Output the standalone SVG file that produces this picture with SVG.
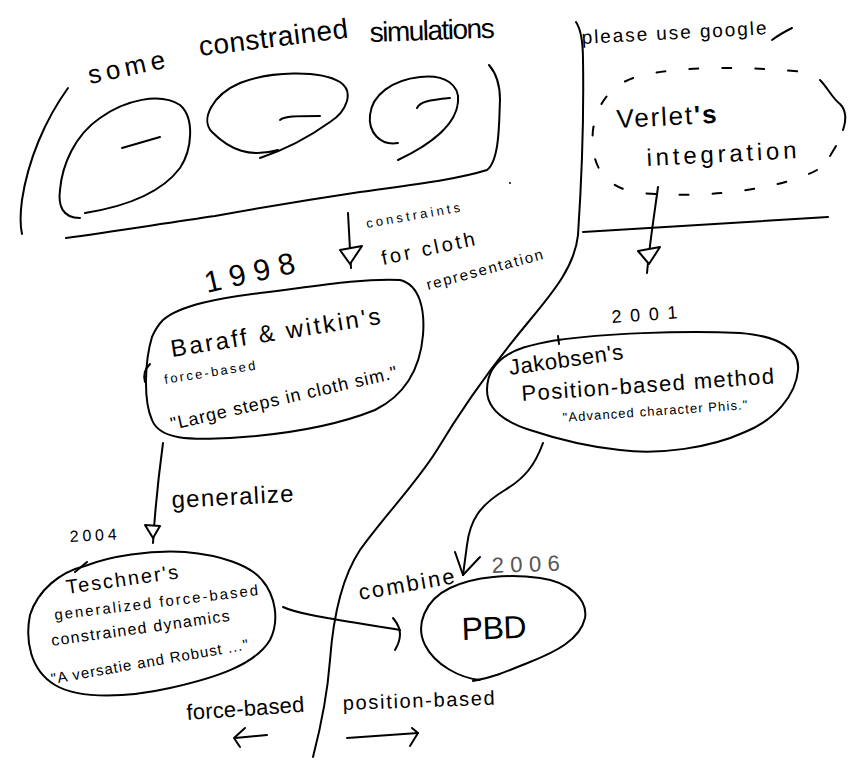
<svg xmlns="http://www.w3.org/2000/svg" width="856" height="777" viewBox="0 0 856 777">
<style>
  .s { fill: none; stroke: #000; stroke-width: 2; stroke-linecap: round; stroke-linejoin: round; }
  .tri { fill: #fff; stroke: #000; stroke-width: 2; stroke-linejoin: round; }
  .dash { fill: none; stroke: #000; stroke-width: 2; stroke-linecap: round; stroke-dasharray: 9 24; }
  text { font-family: "Liberation Sans", "DejaVu Sans", sans-serif; fill: #000; }
</style>
<rect width="856" height="777" fill="#fff"/>

<g id="title">
  <text x="90" y="84" font-size="26" textLength="78" lengthAdjust="spacing" transform="rotate(-12 90 84)">some</text>
  <text x="200" y="56" font-size="28" textLength="150" lengthAdjust="spacing" transform="rotate(-7 200 56)">constrained</text>
  <text x="370" y="42" font-size="28" textLength="125" lengthAdjust="spacing" transform="rotate(-2 370 42)">simulations</text>
</g>

<g id="constrained-simulations">
  <path class="s" d="M68,88 C45,120 28,160 22,200 C20,215 20,225 22,234"/>
  <path class="s" d="M66,238 C110,232 160,224 215,216 C270,206 320,198 360,192 C410,185 455,180 487,170 C500,160 499,120 500,100 C500,85 496,73 489,65"/>
  <path class="s" d="M80,218 C62,218 58,205 60,190 C62,165 75,135 100,118 C125,100 160,92 180,105 C195,118 192,150 180,168 C165,188 135,205 85,213"/>
  <path class="s" d="M122,148 L160,137"/>
  <path class="s" d="M278,150 C250,158 230,150 212,132 C200,120 212,95 240,83 C270,71 320,70 340,82 C355,92 346,112 330,122 C312,135 290,148 260,158"/>
  <path class="s" d="M280,120 C285,116 295,116 320,116"/>
  <path class="s" d="M398,143 C380,146 368,132 370,115 C372,95 392,80 420,77 C445,74 460,85 458,102 C456,125 430,145 398,160"/>
  <path class="s" d="M417,108 C420,102 428,100 450,98"/>
  <circle cx="510" cy="183" r="1" fill="#000"/>
</g>

<g id="google-panel">
  <text x="582" y="44" font-size="19" textLength="185" lengthAdjust="spacing" transform="rotate(-3 582 44)">please use google</text>
  <path class="s" d="M772,40 Q780,34 792,28"/>
  <path class="s" d="M583,232 L828,217"/>
</g>

<g id="verlet">
  <path class="dash" d="M817,170 C790,185 720,200 640,193 C600,188 590,160 593,130 C597,100 615,82 640,76 C680,66 740,66 805,72"/>
  <path class="s" d="M820,80 C828,88 832,98 840,104 C848,112 845,124 843,130"/>
  <path class="s" d="M836,146 L830,156"/>
  <text x="617" y="128" font-size="26" textLength="100" lengthAdjust="spacing" transform="rotate(-3 617 128)">Verlet<tspan font-weight="bold">'s</tspan></text>
  <text x="647" y="166" font-size="24" textLength="150" lengthAdjust="spacing" transform="rotate(-3 647 166)">integration</text>
</g>

<g id="baraff-witkin">
  <text x="207" y="293" font-size="30" textLength="92" lengthAdjust="spacing" transform="rotate(-13 207 293)">1998</text>
  <path class="s" d="M163,320 C180,305 220,298 260,293 C310,287 360,278 400,280 C420,285 425,310 423,335 C420,370 405,395 375,410 C330,428 280,435 230,438 C190,440 160,440 152,420 C143,400 145,360 152,337 C155,330 158,325 163,320 Z"/>
  <path class="s" d="M150,364 Q142,372 145,382"/>
  <text x="172" y="357" font-size="24" textLength="212" lengthAdjust="spacing" transform="rotate(-9 172 357)">Baraff &amp; witkin's</text>
  <text x="165" y="384" font-size="13" textLength="92" lengthAdjust="spacing" transform="rotate(-9 165 384)">force-based</text>
  <text x="172" y="430" font-size="18" textLength="232" lengthAdjust="spacing" transform="rotate(-13 172 430)">"Large steps in cloth sim."</text>
</g>

<g id="jakobsen">
  <text x="612" y="323" font-size="18" textLength="66" lengthAdjust="spacing" transform="rotate(-4 612 323)">2001</text>
  <path class="s" d="M558,340 C600,334 680,330 740,333 C780,336 800,350 798,370 C796,395 775,420 745,432 C710,448 660,455 620,450 C590,447 560,440 530,430 C505,422 487,410 487,390 C487,370 500,355 525,347 C537,344 548,341 558,340 Z"/>
  <path class="s" d="M558,336 L559,344"/>
  <text x="510" y="375" font-size="22" textLength="115" lengthAdjust="spacing" transform="rotate(-8 510 375)">Jakobsen's</text>
  <text x="522" y="401" font-size="22" textLength="253" lengthAdjust="spacing" transform="rotate(-4 522 401)">Position-based method</text>
  <text x="563" y="422" font-size="13" textLength="185" lengthAdjust="spacing" transform="rotate(-4 563 422)">"Advanced character Phis."</text>
</g>

<g id="teschner">
  <text x="70" y="542" font-size="16" textLength="47" lengthAdjust="spacing" transform="rotate(-3 70 542)">2004</text>
  <path class="s" d="M85,566 C110,556 150,550 185,552 C220,555 250,565 262,580 C275,595 280,620 270,640 C255,665 215,678 170,688 C130,697 80,700 55,685 C30,670 25,640 30,615 C38,590 60,572 85,566 Z"/>
  <path class="s" d="M75,572 L87,562"/>
  <text x="67" y="594" font-size="20" textLength="113" lengthAdjust="spacing" transform="rotate(-8 67 594)">Teschner's</text>
  <text x="55" y="620" font-size="15" textLength="205" lengthAdjust="spacing" transform="rotate(-7 55 620)">generalized force-based</text>
  <text x="52" y="646" font-size="16" textLength="180" lengthAdjust="spacing" transform="rotate(-8 52 646)">constrained dynamics</text>
  <text x="52" y="684" font-size="15" textLength="200" lengthAdjust="spacing" transform="rotate(-10 52 684)">"A versatie and Robust ..."</text>
</g>

<g id="pbd">
  <text x="492" y="573" font-size="22" textLength="68" lengthAdjust="spacing" fill="#555" style="fill:#555" transform="rotate(-2 492 573)">2006</text>
  <path class="s" d="M480,680 C460,678 435,665 425,645 C415,625 425,600 450,588 C475,576 510,574 540,578 C570,582 588,600 585,618 C580,640 555,652 530,662 C510,670 495,677 473,681"/>
  <text x="462" y="640" font-size="32" textLength="65" lengthAdjust="spacing" transform="rotate(-2 462 640)">PBD</text>
</g>

<g id="legend">
  <text x="187" y="720" font-size="22" textLength="118" lengthAdjust="spacing" transform="rotate(-4 187 720)">force-based</text>
  <text x="343" y="710" font-size="20" textLength="152" lengthAdjust="spacing" transform="rotate(-2 343 710)">position-based</text>
</g>

<g id="connectors">
  <path class="s" d="M576,22 C580,28 583,40 583,60 C584,120 581,190 578,235 C575,265 555,290 530,320 C505,350 470,395 437,450 C415,485 385,515 360,550 C340,580 333,620 330,660 C327,700 320,730 313,757"/>
  <path class="s" d="M658,187 C655,210 650,240 647,273"/>
  <path class="tri" d="M638,251 L660,247 L649,264 Z"/>
  <path class="s" d="M348,213 L351,268"/>
  <path class="tri" d="M340,250 L362,246 L350,264 Z"/>
  <text x="367" y="228" font-size="13" textLength="95" lengthAdjust="spacing" transform="rotate(-10 367 228)">constraints</text>
  <text x="383" y="265" font-size="20" textLength="95" lengthAdjust="spacing" transform="rotate(-12 383 265)">for cloth</text>
  <text x="428" y="290" font-size="15" textLength="120" lengthAdjust="spacing" transform="rotate(-15 428 290)">representation</text>
  <path class="s" d="M163,443 C158,480 155,510 153,543"/>
  <path class="tri" d="M145,525 L160,526 L153,538 Z"/>
  <text x="172" y="508" font-size="24" textLength="122" lengthAdjust="spacing" transform="rotate(-3 172 508)">generalize</text>
  <path class="s" d="M283,607 C300,615 340,620 400,630"/>
  <path class="s" d="M393,618 C398,624 400,630 400,634 C400,640 398,645 395,650"/>
  <path class="s" d="M543,443 C535,465 525,478 505,490 C480,505 470,520 467,545 L463,575"/>
  <path class="s" d="M455,552 L463,575 L480,557"/>
  <text x="360" y="600" font-size="22" textLength="97" lengthAdjust="spacing" transform="rotate(-10 360 600)">combine</text>
  <path class="s" d="M267,735 L235,738"/>
  <path class="s" d="M245,728 L234,738 L240,747"/>
  <path class="s" d="M347,738 L418,733"/>
  <path class="s" d="M412,728 L418,733 L410,746"/>
</g>
</svg>
